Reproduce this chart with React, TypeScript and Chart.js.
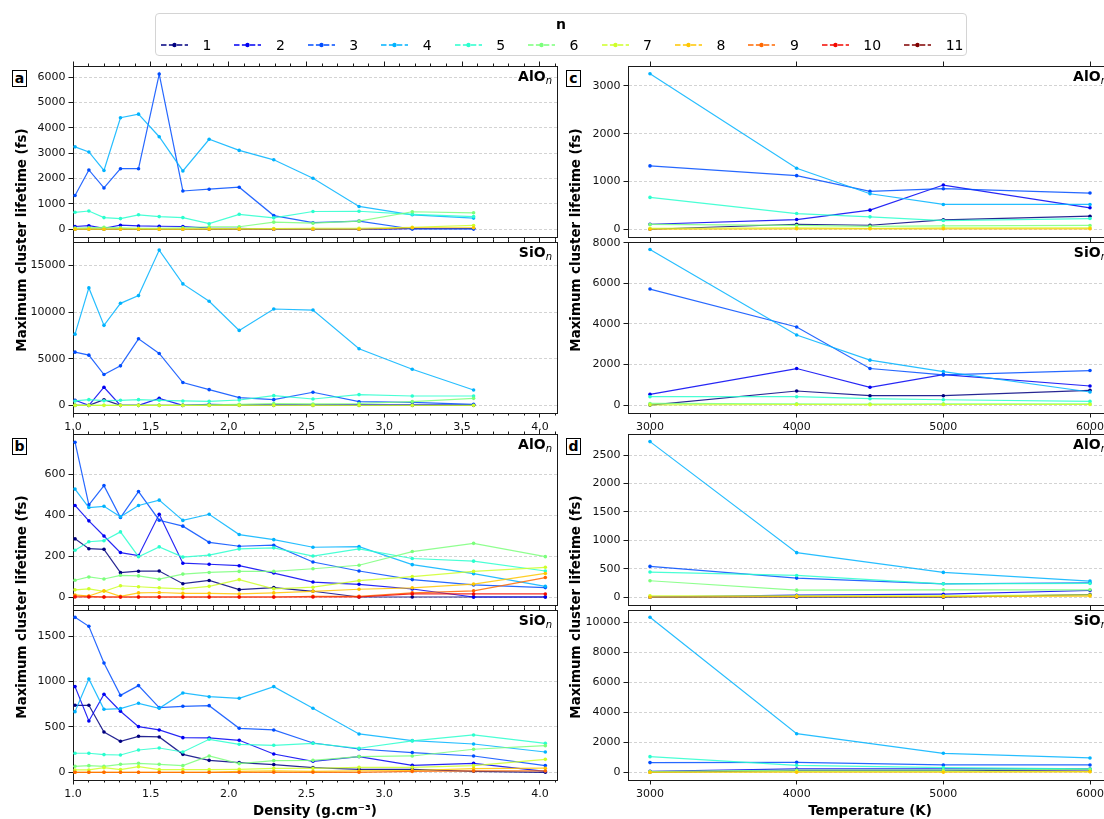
import React, { useEffect, useRef } from 'react';
import { Chart, registerables } from 'chart.js';
Chart.register(...registerables);

const FONT = "'DejaVu Sans', 'Liberation Sans', sans-serif";

// ---------- categories / labels ----------
const N_LABELS = ['1', '2', '3', '4', '5', '6', '7', '8', '9', '10', '11'];
const N_COLORS = ['#000080', '#0000f3', '#004dff', '#00b3ff', '#29ffce', '#7bff7b', '#ceff29', '#ffc600', '#ff6800', '#f30900', '#800000'];

const DENSITY = [1.013, 1.102, 1.199, 1.305, 1.421, 1.554, 1.706, 1.875, 2.068, 2.29, 2.542, 2.838, 3.18, 3.574, 4.035];
const DENSITY_TICKS = [1.0, 1.5, 2.0, 2.5, 3.0, 3.5, 4.0];
const DENSITY_MINOR = [1.0, 1.1, 1.2, 1.3, 1.4, 1.5, 1.6, 1.7, 1.8, 1.9, 2.0, 2.1, 2.2, 2.3, 2.4, 2.5, 2.6, 2.7, 2.8, 2.9, 3.0, 3.1, 3.2, 3.3, 3.4, 3.5, 3.6, 3.7, 3.8, 3.9, 4.0, 4.1];
const TEMP_C = [3000, 4000, 4500, 5000, 6000];
const TEMP_D = [3000, 4000, 5000, 6000];
const TEMP_TICKS = [3000, 4000, 5000, 6000];

// ---------- panel a : AlO_n vs density ----------
const A_ALO_1 = [0, 10, 0, 10, 0, 0, 0, 0, 0, 0, 0, 0, 30, 30];
const A_ALO_2 = [110, 140, 40, 160, 130, 120, 110, 50, 40, 0, 0, 0, 20, 20];
const A_ALO_3 = [1330, 2340, 1630, 2390, 2390, 6120, 1510, 1580, 1660, 540, 260, 320, 10, 10];
const A_ALO_4 = [3250, 3050, 2320, 4400, 4540, 3650, 2300, 3550, 3110, 2740, 2010, 900, 570, 440];
const A_ALO_5 = [670, 720, 460, 420, 570, 500, 460, 220, 590, 450, 700, 710, 590, 500];
const A_ALO_6 = [50, 60, 80, 60, 40, 40, 60, 100, 100, 280, 240, 320, 690, 650];
const A_ALO_7 = [10, 20, 10, 20, 20, 10, 10, 30, 30, 30, 40, 40, 80, 150];
const A_ALO_8 = [0, 0, 0, 0, 0, 0, 0, 0, 0, 0, 0, 0, 60, 60];

// ---------- panel a : SiO_n vs density ----------
const A_SIO_1 = [0, 0, 600, 0, 0, 0, 0, 0, 0, 0, 0, 0, 0, 0];
const A_SIO_2 = [540, 0, 1940, 0, 0, 750, 0, 100, 60, 60, 60, 60, 60, 60];
const A_SIO_3 = [5700, 5380, 3300, 4230, 7130, 5560, 2440, 1680, 820, 610, 1400, 390, 320, 100];
const A_SIO_4 = [7630, 12580, 8570, 10930, 11760, 16630, 13010, 11150, 8030, 10320, 10210, 6060, 3870, 1650];
const A_SIO_5 = [470, 610, 500, 540, 610, 540, 470, 430, 570, 1040, 680, 1150, 1000, 1000];
const A_SIO_6 = [0, 0, 0, 0, 0, 0, 0, 50, 100, 200, 150, 200, 400, 750];
const A_SIO_7 = [0, 0, 0, 0, 0, 0, 0, 0, 0, 0, 0, 0, 0, 0];

// ---------- panel b : AlO_n vs density ----------
const B_ALO_1 = [284, 236, 233, 119, 126, 127, 65, 81, 36, 46, 28, 0, 0, 0, 0];
const B_ALO_2 = [447, 372, 298, 217, 202, 404, 165, 160, 153, 117, 73, 62, 39, 0, 0];
const B_ALO_3 = [756, 450, 544, 388, 515, 375, 346, 267, 248, 253, 171, 127, 85, 59, 46];
const B_ALO_4 = [527, 437, 443, 392, 447, 473, 374, 404, 305, 280, 243, 246, 158, 114, 52];
const B_ALO_5 = [228, 270, 275, 318, 197, 245, 195, 205, 235, 240, 200, 235, 188, 175, 127];
const B_ALO_6 = [82, 98, 88, 106, 103, 87, 112, 120, 125, 125, 138, 155, 222, 262, 197];
const B_ALO_7 = [35, 40, 28, 55, 50, 45, 40, 52, 85, 40, 48, 80, 100, 125, 145];
const B_ALO_8 = [10, 5, 30, 3, 20, 22, 18, 18, 15, 20, 28, 38, 45, 63, 115];
const B_ALO_9 = [5, 3, 0, 0, 0, 0, 0, 0, 0, 0, 3, 3, 20, 30, 95];
const B_ALO_10 = [0, 0, 0, 0, 0, 0, 0, 0, 0, 0, 0, 0, 15, 15, 15];

// ---------- panel b : SiO_n vs density ----------
const B_SIO_1 = [739, 739, 445, 342, 397, 390, 198, 132, 107, 85, 51, 33, 33, 11, 0];
const B_SIO_2 = [945, 566, 860, 673, 504, 467, 382, 379, 353, 202, 121, 173, 77, 99, 11];
const B_SIO_3 = [1709, 1610, 1206, 849, 956, 713, 728, 735, 485, 467, 323, 257, 217, 180, 74];
const B_SIO_4 = [669, 1029, 695, 702, 761, 706, 875, 834, 816, 945, 706, 423, 349, 312, 224];
const B_SIO_5 = [210, 210, 195, 191, 246, 268, 224, 364, 309, 298, 320, 265, 346, 412, 320];
const B_SIO_6 = [66, 73, 66, 88, 99, 88, 73, 180, 96, 129, 132, 173, 180, 254, 294];
const B_SIO_7 = [26, 26, 51, 29, 62, 29, 29, 29, 33, 44, 44, 55, 55, 73, 143];
const B_SIO_8 = [0, 0, 0, 0, 0, 0, 0, 0, 10, 15, 10, 15, 20, 40, 45];
const B_SIO_9 = [0, 0, 0, 0, 0, 0, 0, 0, 0, 0, 0, 0, 10, 15, 15];

// ---------- panel c : AlO_n vs temperature ----------
const C_ALO_1 = [0, 105, 84, 196, 273];
const C_ALO_2 = [105, 203, 400, 925, 449];
const C_ALO_3 = [1325, 1121, 792, 848, 757];
const C_ALO_4 = [3252, 1276, 743, 519, 519];
const C_ALO_5 = [666, 329, 259, 182, 224];
const C_ALO_6 = [100, 80, 60, 70, 80];
const C_ALO_7 = [20, 30, 20, 30, 30];
const C_ALO_8 = [0, 10, 10, 10, 10];

// ---------- panel c : SiO_n vs temperature ----------
const C_SIO_1 = [0, 694, 463, 463, 727];
const C_SIO_2 = [529, 1802, 876, 1504, 942];
const C_SIO_3 = [5720, 3852, 1802, 1488, 1703];
const C_SIO_4 = [7670, 3455, 2215, 1653, 645];
const C_SIO_5 = [413, 413, 314, 264, 182];
const C_SIO_6 = [80, 60, 50, 60, 60];
const C_SIO_7 = [10, 30, 20, 30, 30];

// ---------- panel d : AlO_n vs temperature ----------
const D_ALO_1 = [0, 0, 0, 45];
const D_ALO_2 = [0, 35, 53, 118];
const D_ALO_3 = [542, 336, 236, 254];
const D_ALO_4 = [2736, 784, 436, 283];
const D_ALO_5 = [442, 383, 236, 242];
const D_ALO_6 = [289, 124, 130, 130];
const D_ALO_7 = [24, 25, 25, 40];
const D_ALO_8 = [0, 10, 10, 20];

// ---------- panel d : SiO_n vs temperature ----------
const D_SIO_1 = [0, 100, 100, 150];
const D_SIO_2 = [67, 222, 222, 222];
const D_SIO_3 = [643, 665, 488, 488];
const D_SIO_4 = [10331, 2572, 1264, 953];
const D_SIO_5 = [1042, 466, 310, 222];
const D_SIO_6 = [50, 150, 150, 200];
const D_SIO_7 = [0, 50, 50, 50];
const D_SIO_8 = [0, 0, 0, 30];

// y tick labels
const Y_A_ALO = [0, 1000, 2000, 3000, 4000, 5000, 6000];
const Y_A_SIO = [0, 5000, 10000, 15000];
const Y_B_ALO = [0, 200, 400, 600];
const Y_B_SIO = [0, 500, 1000, 1500];
const Y_C_ALO = [0, 1000, 2000, 3000];
const Y_C_SIO = [0, 2000, 4000, 6000, 8000];
const Y_D_ALO = [0, 500, 1000, 1500, 2000, 2500];
const Y_D_SIO = [0, 2000, 4000, 6000, 8000, 10000];

const Y_TITLE = 'Maximum cluster lifetime (fs)';
const X_TITLE_D = 'Density (g.cm\u207B\u00B3)';
const X_TITLE_T = 'Temperature (K)';

// ---------- layout (positions/sizes only) ----------
const COL_L = [73, 628];
const COL_R = [557, 1112];
const ROW_T = [66, 242, 434, 610];
const ROW_B = [237, 413, 605, 780];
const PAD_L = 72;
const PAD_R = 30;
const PAD_T = 14;
const SPINE = '#1a1a1a';
const TITLE_SIZE = 13.4;

type Spec = {
  col: number; row: number; kind: 'density' | 'temp';
  xs: number[]; series: (number[] | null)[];
  yMin: number; yMax: number; yTicks: number[];
  xLabels: boolean; xTitle?: string; tag: string;
};

const SPECS: Spec[] = [
  { col: 0, row: 0, kind: 'density', xs: DENSITY, series: [A_ALO_1, A_ALO_2, A_ALO_3, A_ALO_4, A_ALO_5, A_ALO_6, A_ALO_7, A_ALO_8], yMin: -305, yMax: 6440, yTicks: Y_A_ALO, xLabels: false, tag: 'AlO' },
  { col: 0, row: 1, kind: 'density', xs: DENSITY, series: [A_SIO_1, A_SIO_2, A_SIO_3, A_SIO_4, A_SIO_5, A_SIO_6, A_SIO_7], yMin: -820, yMax: 17500, yTicks: Y_A_SIO, xLabels: true, tag: 'SiO' },
  { col: 0, row: 2, kind: 'density', xs: DENSITY, series: [B_ALO_1, B_ALO_2, B_ALO_3, B_ALO_4, B_ALO_5, B_ALO_6, B_ALO_7, B_ALO_8, B_ALO_9, B_ALO_10], yMin: -39, yMax: 796, yTicks: Y_B_ALO, xLabels: false, tag: 'AlO' },
  { col: 0, row: 3, kind: 'density', xs: DENSITY, series: [B_SIO_1, B_SIO_2, B_SIO_3, B_SIO_4, B_SIO_5, B_SIO_6, B_SIO_7, B_SIO_8, B_SIO_9], yMin: -85, yMax: 1790, yTicks: Y_B_SIO, xLabels: true, xTitle: X_TITLE_D, tag: 'SiO' },
  { col: 1, row: 0, kind: 'temp', xs: TEMP_C, series: [C_ALO_1, C_ALO_2, C_ALO_3, C_ALO_4, C_ALO_5, C_ALO_6, C_ALO_7, C_ALO_8], yMin: -162, yMax: 3415, yTicks: Y_C_ALO, xLabels: false, tag: 'AlO' },
  { col: 1, row: 1, kind: 'temp', xs: TEMP_C, series: [C_SIO_1, C_SIO_2, C_SIO_3, C_SIO_4, C_SIO_5, C_SIO_6, C_SIO_7], yMin: -390, yMax: 8040, yTicks: Y_C_SIO, xLabels: true, tag: 'SiO' },
  { col: 1, row: 2, kind: 'temp', xs: TEMP_D, series: [D_ALO_1, D_ALO_2, D_ALO_3, D_ALO_4, D_ALO_5, D_ALO_6, D_ALO_7, D_ALO_8], yMin: -137, yMax: 2870, yTicks: Y_D_ALO, xLabels: false, tag: 'AlO' },
  { col: 1, row: 3, kind: 'temp', xs: TEMP_D, series: [D_SIO_1, D_SIO_2, D_SIO_3, D_SIO_4, D_SIO_5, D_SIO_6, D_SIO_7, D_SIO_8], yMin: -515, yMax: 10815, yTicks: Y_D_SIO, xLabels: true, xTitle: X_TITLE_T, tag: 'SiO' },
];

function withAlpha(hex: string, a: number) {
  const r = parseInt(hex.slice(1, 3), 16), g = parseInt(hex.slice(3, 5), 16), b = parseInt(hex.slice(5, 7), 16);
  return `rgba(${r},${g},${b},${a})`;
}

function bottomPad(s: Spec) {
  if (s.xTitle) return 42;
  if (s.xLabels) return 30;
  return 16;
}

function buildConfig(s: Spec): any {
  const isD = s.kind === 'density';
  const xMin = isD ? 1.0 : 2850;
  const xMax = isD ? 4.11 : 6150;
  const majors = isD ? DENSITY_TICKS : TEMP_TICKS;
  const fmtX = (v: number) => (isD ? Number(v).toFixed(1) : String(v));
  const tickFont = { family: FONT, size: 11 };
  const datasets: any[] = [];
  s.series.forEach((vals, i) => {
    if (!vals) return;
    datasets.push({
      label: N_LABELS[i],
      data: vals.map((v, j) => ({ x: s.xs[j], y: v })),
      borderColor: withAlpha(N_COLORS[i], 0.85),
      backgroundColor: N_COLORS[i],
      pointBackgroundColor: N_COLORS[i],
      pointBorderColor: N_COLORS[i],
      pointBorderWidth: 0,
      pointRadius: 1.8,
      pointHoverRadius: 1.8,
      borderWidth: 1.2,
      tension: 0,
      fill: false,
      order: 11 - i,
      xAxisID: 'x',
      yAxisID: 'y',
    });
  });
  const axisH = s.xLabels ? bottomPad(s) : 0;
  const xAxis = (position: string, values: number[], len: number, labels: boolean, weight: number, border: boolean, height: number, title?: string) => ({
    type: 'linear',
    position,
    min: xMin,
    max: xMax,
    weight,
    afterBuildTicks: (sc: any) => { sc.ticks = values.map((v) => ({ value: v })); },
    afterFit: (sc: any) => { sc.height = height; },
    grid: { display: true, drawOnChartArea: false, drawTicks: true, tickLength: len, tickColor: SPINE, tickWidth: 1 },
    border: { display: border, color: SPINE, width: 1 },
    ticks: { display: labels, autoSkip: false, maxRotation: 0, minRotation: 0, padding: 3, font: tickFont, color: '#111', callback: (v: any) => fmtX(v) },
    title: title
      ? { display: true, text: title, font: { family: FONT, size: TITLE_SIZE, weight: 'bold' }, color: '#000', padding: { top: 0, bottom: 2 } }
      : { display: false },
  });
  const scales: any = {
    x: xAxis('bottom', majors, 4.5, s.xLabels, 1, true, axisH, s.xTitle),
    xt: xAxis('top', majors, 4.5, false, 1, true, 0),
  };
  if (isD) {
    scales.xm = xAxis('bottom', DENSITY_MINOR, 2.5, false, 0, false, 0);
    scales.xtm = xAxis('top', DENSITY_MINOR, 2.5, false, 0, false, 0);
  }
  scales.y = {
    type: 'linear',
    position: 'left',
    min: s.yMin,
    max: s.yMax,
    afterBuildTicks: (sc: any) => { sc.ticks = s.yTicks.map((v) => ({ value: v })); },
    afterFit: (sc: any) => { sc.width = PAD_L; },
    grid: { display: true, drawOnChartArea: true, color: '#c8c8c8', lineWidth: 0.8, drawTicks: true, tickLength: 4.5, tickColor: SPINE, tickWidth: 1 },
    border: { display: true, color: SPINE, width: 1, dash: [3, 2] },
    ticks: { autoSkip: false, padding: 3, font: tickFont, color: '#111', callback: (v: any) => String(v) },
  };
  scales.yr = {
    type: 'linear',
    position: 'right',
    min: s.yMin,
    max: s.yMax,
    afterFit: (sc: any) => { sc.width = 0; },
    grid: { display: false },
    border: { display: true, color: SPINE, width: 1 },
    ticks: { display: false },
  };
  return {
    type: 'line',
    data: { datasets },
    options: {
      responsive: false,
      animation: false,
      events: [],
      layout: { padding: { left: 0, right: PAD_R, top: PAD_T, bottom: bottomPad(s) - axisH } },
      plugins: { legend: { display: false }, tooltip: { enabled: false }, title: { display: false } },
      scales,
    },
  };
}

function SubPlot({ spec }: { spec: Spec }) {
  const ref = useRef<HTMLCanvasElement>(null);
  const L = COL_L[spec.col], R = COL_R[spec.col], T = ROW_T[spec.row], B = ROW_B[spec.row];
  const w = PAD_L + (R - L) + PAD_R;
  const h = PAD_T + (B - T) + bottomPad(spec);
  useEffect(() => {
    const chart = new Chart(ref.current as HTMLCanvasElement, buildConfig(spec));
    return () => chart.destroy();
  }, []);
  return (
    <canvas
      ref={ref}
      width={w}
      height={h}
      style={{ position: 'absolute', left: L - PAD_L, top: T - PAD_T, width: w, height: h }}
    />
  );
}

function Tag({ spec }: { spec: Spec }) {
  const R = COL_R[spec.col], T = ROW_T[spec.row];
  return (
    <div style={{ position: 'absolute', right: 1104 - (R - 5), top: T + 2, font: `bold 14px ${FONT}`, lineHeight: '16px', whiteSpace: 'nowrap', color: '#000' }}>
      {spec.tag}
      <span style={{ fontStyle: 'italic', fontWeight: 'normal', fontSize: '10px', position: 'relative', top: 3 }}>n</span>
    </div>
  );
}

function PanelLetter({ letter, x, y }: { letter: string; x: number; y: number }) {
  return (
    <div style={{ position: 'absolute', left: x, top: y, width: 15, height: 17, boxSizing: 'border-box', border: '1px solid #000', background: '#fff', font: `bold 14px ${FONT}`, lineHeight: '15px', textAlign: 'center', color: '#000' }}>
      {letter}
    </div>
  );
}

function YTitle({ cx, cy }: { cx: number; cy: number }) {
  return (
    <div style={{ position: 'absolute', left: cx - 200, top: cy - 10, width: 400, height: 20, textAlign: 'center', font: `bold ${TITLE_SIZE}px ${FONT}`, lineHeight: '20px', transform: 'rotate(-90deg)', color: '#000', whiteSpace: 'nowrap' }}>
      {Y_TITLE}
    </div>
  );
}

function LegendSymbol({ color }: { color: string }) {
  return (
    <svg width={27} height={10} style={{ display: 'block' }}>
      <line x1={0} y1={5} x2={27} y2={5} stroke={color} strokeWidth={1.5} strokeDasharray="5.5 2.4" />
      <circle cx={13.5} cy={5} r={2.2} fill={color} />
    </svg>
  );
}

function Legend() {
  return (
    <div style={{ position: 'absolute', left: 155, top: 13, width: 812, height: 43, boxSizing: 'border-box', border: '1px solid #d4d4d4', borderRadius: 4, background: '#fff' }}>
      <div style={{ position: 'absolute', left: 0, right: 0, top: 2, textAlign: 'center', font: `bold 14px ${FONT}`, lineHeight: '17px', color: '#000' }}>n</div>
      <div style={{ position: 'absolute', left: 5, top: 22, height: 18, display: 'flex', alignItems: 'center' }}>
        {N_LABELS.map((lab, i) => (
          <div key={lab} style={{ display: 'flex', alignItems: 'center', marginRight: 23 }}>
            <LegendSymbol color={N_COLORS[i]} />
            <span style={{ marginLeft: 14.5, font: `14px ${FONT}`, color: '#000', lineHeight: '18px' }}>{lab}</span>
          </div>
        ))}
      </div>
    </div>
  );
}

export default function App() {
  return (
    <div style={{ position: 'fixed', left: 0, top: 0, width: 1104, height: 819, overflow: 'hidden', background: '#fff' }}>
      {SPECS.map((s, i) => (
        <SubPlot key={i} spec={s} />
      ))}
      {SPECS.map((s, i) => (
        <Tag key={'t' + i} spec={s} />
      ))}
      <PanelLetter letter="a" x={12} y={70} />
      <PanelLetter letter="b" x={12} y={438} />
      <PanelLetter letter="c" x={566} y={70} />
      <PanelLetter letter="d" x={566} y={438} />
      <YTitle cx={22} cy={240} />
      <YTitle cx={22} cy={607} />
      <YTitle cx={576} cy={240} />
      <YTitle cx={576} cy={607} />
      <Legend />
    </div>
  );
}
